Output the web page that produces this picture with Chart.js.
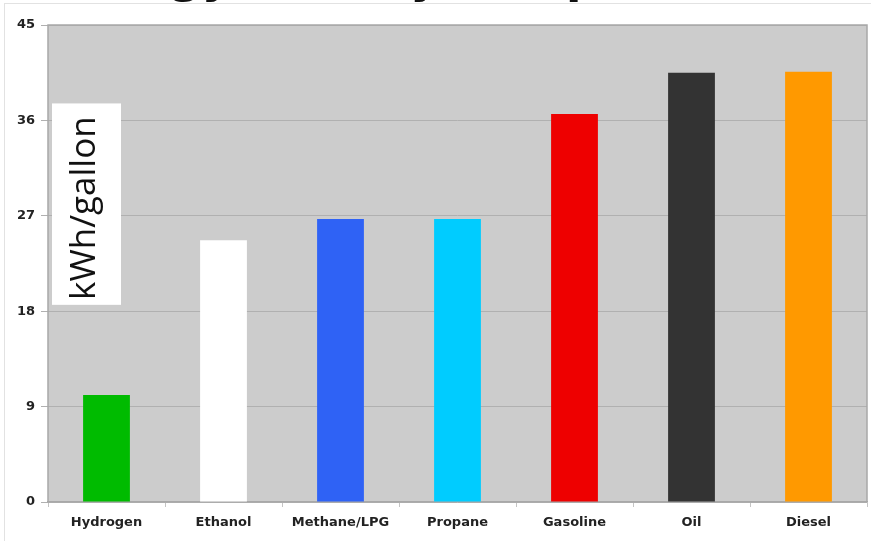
<!DOCTYPE html>
<html>
<head>
<meta charset="utf-8">
<script src="https://cdn.jsdelivr.net/npm/chart.js@4/dist/chart.umd.min.js"></script>
<style>
  html,body{margin:0;padding:0;background:#fff}
  #wrap{width:871px;height:541px;position:relative}
</style>
</head>
<body>
<div id="wrap"><canvas id="c" width="871" height="541"></canvas></div>
<script>
// fuel energy density, kWh per gallon
const fuels=['Hydrogen','Ethanol','Methane/LPG','Propane','Gasoline','Oil','Diesel'];
const kwhPerGallon=[10.1,24.7,26.7,26.7,36.6,40.5,40.6];
const barColors=['#00bb00','#ffffff','#2f62f5','#00ccff','#ee0000','#333333','#ff9900'];
const yTicks=[0,9,18,27,36,45];
const titleText='Energy Density Comparison';
const unitText='kWh/gallon';

const FONT='"DejaVu Sans", Verdana, sans-serif';

// grey plot background + frame, title cut off at top, white unit box
const deco={
  id:'deco',
  beforeDraw(ch){
    const {ctx,chartArea:a}=ch;
    ctx.save();
    ctx.strokeStyle='#e2e2e2'; ctx.lineWidth=1;
    ctx.strokeRect(4.5,3.5,870,560);
    ctx.fillStyle='#cccccc';
    ctx.fillRect(a.left,a.top,a.right-a.left,a.bottom-a.top);
    ctx.fillStyle='#111';
    ctx.font='bold 45px '+FONT;
    ctx.textAlign='center'; ctx.textBaseline='alphabetic';
    ctx.fillText(titleText,405,-7);
    ctx.restore();
  },
  beforeDatasetsDraw(ch){
    const {ctx,chartArea:a}=ch;
    const y=ch.scales.y;
    ctx.save();
    const top=y.getPixelForValue(37.6), bot=y.getPixelForValue(18.6);
    ctx.fillStyle='#fff';
    ctx.fillRect(a.left+4,top,69,bot-top);
    ctx.translate(a.left+35,(top+bot)/2+6);
    ctx.rotate(-Math.PI/2);
    ctx.fillStyle='#111';
    ctx.font='35px "Open Sans", sans-serif';
    ctx.textAlign='center'; ctx.textBaseline='middle';
    ctx.fillText(unitText,2,2);
    ctx.restore();
  },
  afterDraw(ch){
    const {ctx,chartArea:a}=ch;
    ctx.save();
    ctx.strokeStyle='#a8a8a8'; ctx.lineWidth=1.5;
    ctx.beginPath();
    ctx.moveTo(a.left,a.bottom); ctx.lineTo(a.left,a.top); ctx.lineTo(a.right,a.top); ctx.lineTo(a.right,a.bottom);
    ctx.stroke();
    ctx.restore();
  }
};

new Chart(document.getElementById('c'),{
  type:'bar',
  data:{labels:fuels,datasets:[{data:kwhPerGallon,backgroundColor:barColors,borderWidth:0,
    categoryPercentage:1,barPercentage:0.4}]},
  options:{
    responsive:false,animation:false,
    layout:{padding:{top:25,right:4,left:0,bottom:0}},
    plugins:{legend:{display:false},tooltip:{enabled:false},title:{display:false}},
    scales:{
      x:{
        grid:{display:true,drawOnChartArea:false,offset:true,color:'#c4c4c4',tickLength:5},
        border:{display:true,color:'#a8a8a8',width:1.5},
        ticks:{color:'#222',font:{family:FONT,size:13,weight:'bold'},padding:8,maxRotation:0},
        afterFit(s){s.height=39;}
      },
      y:{
        min:0,max:45,
        afterBuildTicks(s){s.ticks=yTicks.map(v=>({value:v}));},
        grid:{color:'#b0b0b0',tickLength:7,lineWidth:1},
        border:{display:false},
        ticks:{color:'#222',font:{family:FONT,size:13,weight:'bold'},padding:6},
        afterFit(s){s.width=48;}
      }
    }
  },
  plugins:[deco]
});
</script>
</body>
</html>
